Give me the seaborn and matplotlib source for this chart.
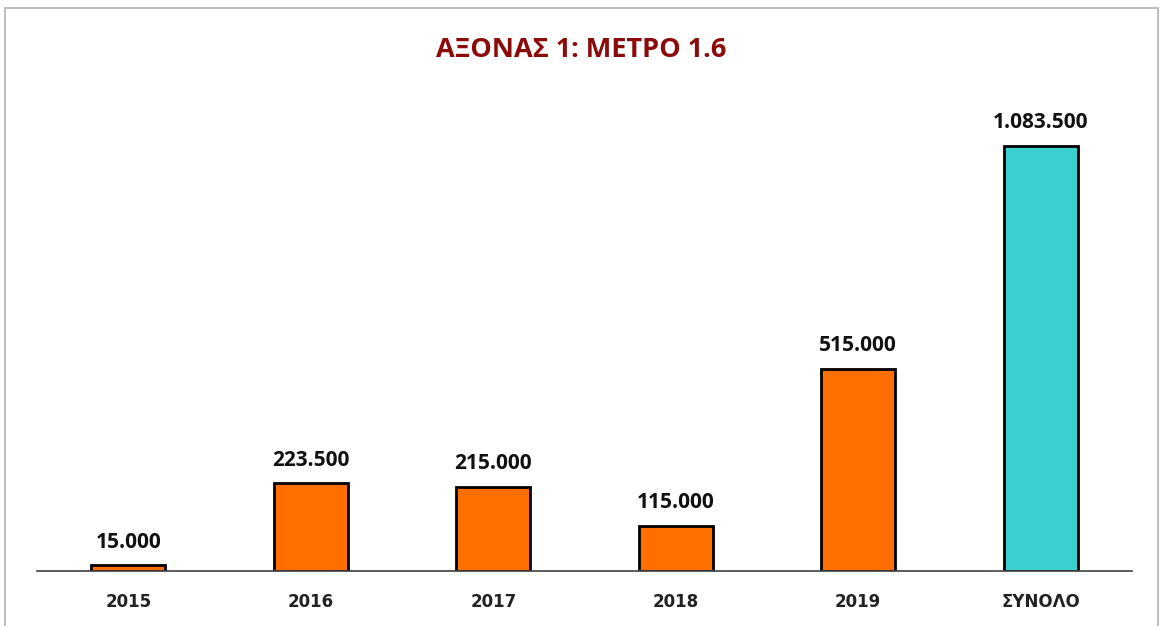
import matplotlib.pyplot as plt
import seaborn as sns
import pandas as pd
from matplotlib.patches import Rectangle

categories = ["2015", "2016", "2017", "2018", "2019", "ΣΥΝΟΛΟ"]
values = [15000, 223500, 215000, 115000, 515000, 1083500]
bar_colors = ["#FF6F00", "#FF6F00", "#FF6F00", "#FF6F00", "#FF6F00", "#3BCFCF"]
title = "ΑΞΟΝΑΣ 1: ΜΕΤΡΟ 1.6"


def fmt_gr(v):
    return f"{v:,.0f}".replace(",", ".")


df = pd.DataFrame({"cat": categories, "val": values})

sns.set_style("white")
plt.rcParams["font.family"] = ["Open Sans", "Liberation Sans", "DejaVu Sans"]

fig = plt.figure(figsize=(11.62, 6.26), dpi=100)
ax = fig.add_axes([37 / 1162, 55 / 626, 1095 / 1162, 471 / 626])

sns.barplot(data=df, x="cat", y="val", hue="cat", palette=bar_colors,
            saturation=1, width=0.405, edgecolor="black", linewidth=2,
            legend=False, ax=ax)

ax.set_ylim(0, 1.2e6)
ax.set_xlim(-0.5, len(categories) - 0.5)
ax.set_xlabel("")
ax.set_ylabel("")
ax.set_yticks([])
for s in ["top", "right", "left"]:
    ax.spines[s].set_visible(False)
ax.spines["bottom"].set_color("#404040")
ax.spines["bottom"].set_linewidth(1.2)
ax.tick_params(axis="x", length=0, pad=16)
for lbl in ax.get_xticklabels():
    lbl.set_fontsize(12)
    lbl.set_family(["DejaVu Sans"])
    lbl.set_fontweight("bold")
    lbl.set_color("#222222")

for i, v in enumerate(values):
    ax.annotate(fmt_gr(v), (i, v), xytext=(0, 9), textcoords="offset points",
                ha="center", va="bottom", fontsize=15, fontweight="bold",
                color="#111111")

fig.text(0.5, 1 - 50 / 626, title, ha="center", va="center",
         fontsize=19.5, fontweight="bold", color="#8B0A0A")

fig.patches.append(Rectangle((5 / 1162, -0.01), 1153 / 1162, 1 - 8 / 626 + 0.01,
                             transform=fig.transFigure, fill=False,
                             edgecolor="#BFBFBF", linewidth=1.5))

fig.savefig("out.png", dpi=100)
